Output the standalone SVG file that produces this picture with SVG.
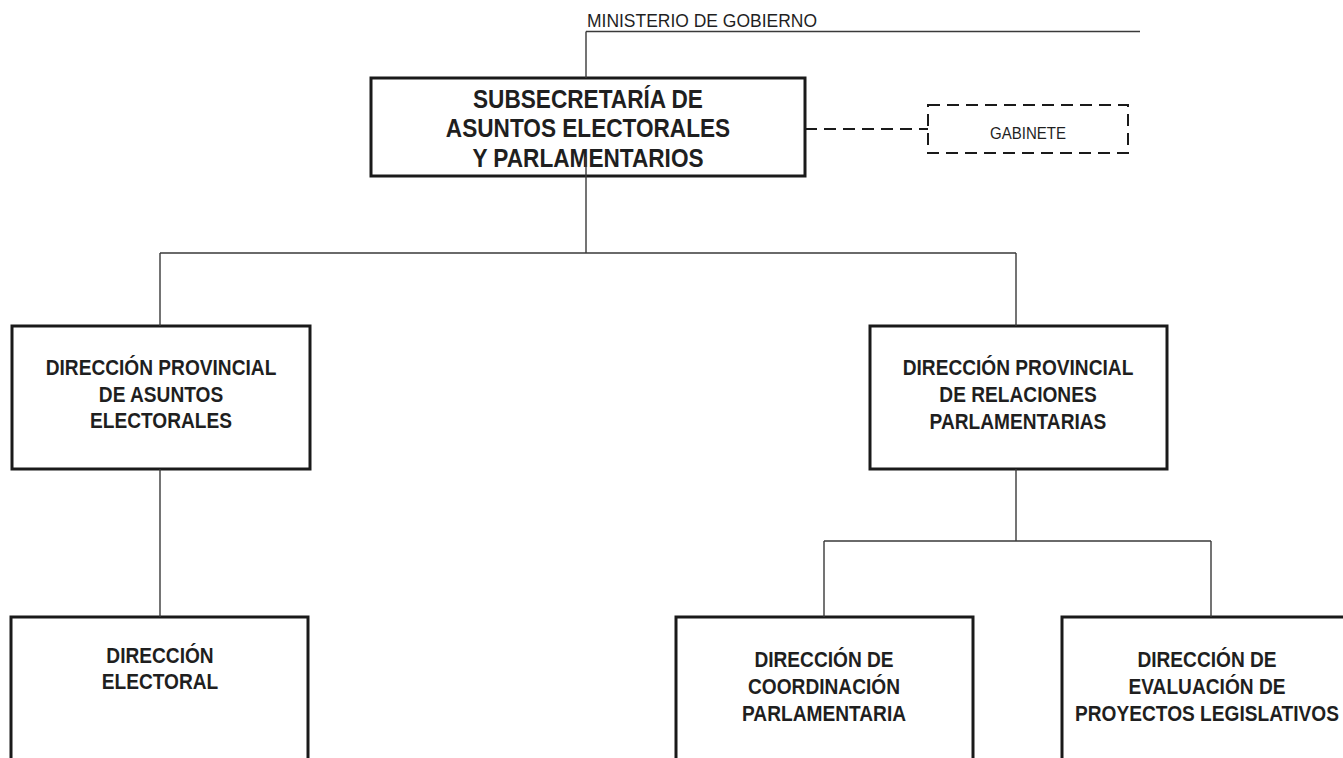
<svg xmlns="http://www.w3.org/2000/svg" width="1343" height="758" viewBox="0 0 1343 758">
  <style>
    .box { fill: #fff; stroke: #1a1a1a; stroke-width: 3; }
    .dbox { fill: #fff; stroke: #1a1a1a; stroke-width: 2; stroke-dasharray: 12 7; }
    .conn { fill: none; stroke: #3a3a3a; stroke-width: 1.4; }
    .dash { fill: none; stroke: #1a1a1a; stroke-width: 2; stroke-dasharray: 12 7; }
    .t { font-family: "Liberation Sans", Arial, sans-serif; font-weight: bold; font-size: 22px; fill: #1f1f1f; text-anchor: middle; }
    .big { font-size: 26px; }
    .reg { font-family: "Liberation Sans", Arial, sans-serif; font-weight: normal; fill: #1f1f1f; }
  </style>
  <rect x="0" y="0" width="1343" height="758" fill="#fff"/>
  <g id="ministerio">
    <text class="reg" x="587" y="27" font-size="18" textLength="230" lengthAdjust="spacingAndGlyphs">MINISTERIO DE GOBIERNO</text>
  </g>
  <g id="subsecretaria">
    <rect class="box" x="371" y="78" width="434" height="98"/>
    <g transform="translate(588 0) scale(0.87 1)">
      <text class="t big" x="0" y="108">SUBSECRETARÍA DE</text>
      <text class="t big" x="0" y="137">ASUNTOS ELECTORALES</text>
      <text class="t big" x="0" y="167">Y PARLAMENTARIOS</text>
    </g>
  </g>
  <g id="gabinete">
    <rect class="dbox" x="928" y="105" width="200" height="48"/>
    <text class="reg" x="1028" y="139" font-size="16" text-anchor="middle" textLength="76" lengthAdjust="spacingAndGlyphs">GABINETE</text>
  </g>
  <g id="dp-asuntos">
    <rect class="box" x="12" y="326" width="298" height="143"/>
    <g transform="translate(161 0) scale(0.87 1)">
      <text class="t" x="0" y="375">DIRECCIÓN PROVINCIAL</text>
      <text class="t" x="0" y="402">DE ASUNTOS</text>
      <text class="t" x="0" y="428">ELECTORALES</text>
    </g>
  </g>
  <g id="dp-relaciones">
    <rect class="box" x="870" y="326" width="297" height="143"/>
    <g transform="translate(1018 0) scale(0.87 1)">
      <text class="t" x="0" y="375">DIRECCIÓN PROVINCIAL</text>
      <text class="t" x="0" y="402">DE RELACIONES</text>
      <text class="t" x="0" y="429">PARLAMENTARIAS</text>
    </g>
  </g>
  <g id="dir-electoral">
    <rect class="box" x="11" y="617" width="297" height="160"/>
    <g transform="translate(160 0) scale(0.87 1)">
      <text class="t" x="0" y="663">DIRECCIÓN</text>
      <text class="t" x="0" y="689">ELECTORAL</text>
    </g>
  </g>
  <g id="dir-coordinacion">
    <rect class="box" x="676" y="617" width="297" height="160"/>
    <g transform="translate(824 0) scale(0.87 1)">
      <text class="t" x="0" y="667">DIRECCIÓN DE</text>
      <text class="t" x="0" y="694">COORDINACIÓN</text>
      <text class="t" x="0" y="721">PARLAMENTARIA</text>
    </g>
  </g>
  <g id="dir-evaluacion">
    <rect class="box" x="1062" y="617" width="297" height="160"/>
    <g transform="translate(1207 0) scale(0.87 1)">
      <text class="t" x="0" y="667">DIRECCIÓN DE</text>
      <text class="t" x="0" y="694">EVALUACIÓN DE</text>
      <text class="t" x="0" y="721">PROYECTOS LEGISLATIVOS</text>
    </g>
  </g>
  <g id="connectors">
    <path class="conn" d="M586 31.5 H1140 M586 31.5 V78"/>
    <path class="conn" d="M586 157 V253 M160 253 H1016 M160 253 V326 M1016 253 V326"/>
    <path class="conn" d="M160 469 V617"/>
    <path class="conn" d="M1016 469 V541 M824 541 H1211 M824 541 V617 M1211 541 V617"/>
    <path class="dash" d="M805 129 H928"/>
  </g>
</svg>
